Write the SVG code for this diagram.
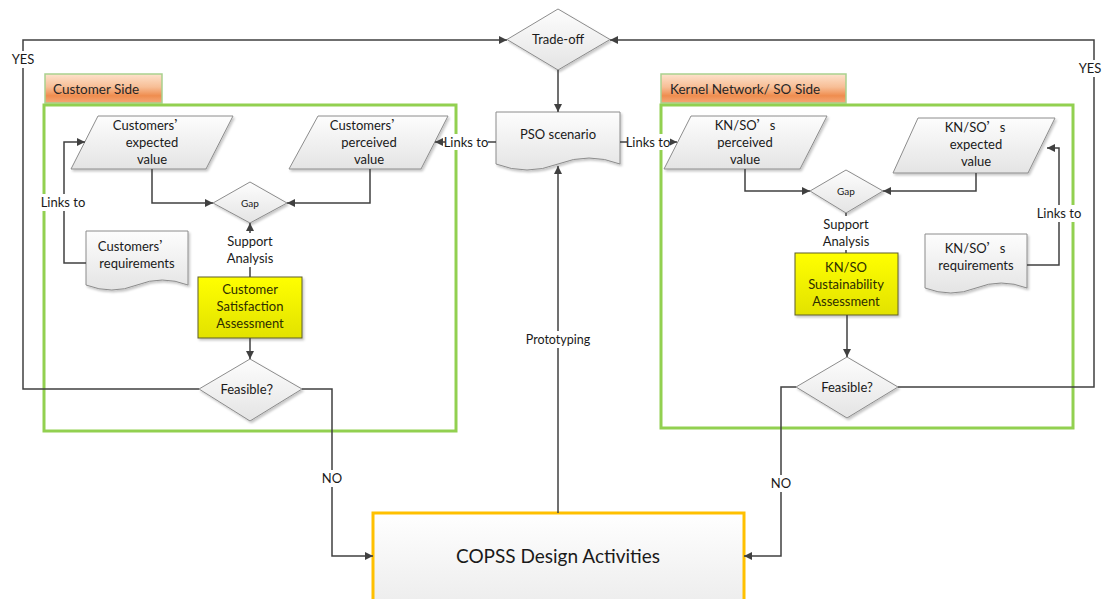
<svg xmlns="http://www.w3.org/2000/svg" width="1103" height="599" viewBox="0 0 1103 599">
<style>
.node{fill:url(#gGray);stroke:#8c8c8c;stroke-width:1;filter:url(#sh)}
.yel{fill:url(#gYel);stroke:#5f5f2a;stroke-width:1;filter:url(#sh)}
.cont{fill:none;stroke:#92d050;stroke-width:3}
.tab{fill:url(#gOr);stroke:#a9d18e;stroke-width:1.5}
.edge{fill:none;stroke:#404040;stroke-width:1.5}
.t{font-family:Lato,"Noto Sans CJK SC",sans-serif;font-size:13px;fill:#1a1a1a;text-anchor:middle}
.ty{font-family:Lato,"Noto Sans CJK SC",sans-serif;font-size:13px;fill:#2e2e00;text-anchor:middle}
.tabt{font-family:Lato,"Noto Sans CJK SC",sans-serif;font-size:13.5px;fill:#262626}
.small{font-size:10px}
.bg{fill:#ffffff}
.fw{font-family:"Noto Sans CJK SC",sans-serif;font-feature-settings:"fwid"}
</style>
<defs>
<linearGradient id="gGray" x1="0" y1="0" x2="0" y2="1"><stop offset="0" stop-color="#fdfdfd"/><stop offset="1" stop-color="#e4e4e4"/></linearGradient>
<linearGradient id="gYel" x1="0" y1="0" x2="0" y2="1"><stop offset="0" stop-color="#ffff00"/><stop offset="1" stop-color="#e2e200"/></linearGradient>
<linearGradient id="gOr" x1="0" y1="0" x2="0" y2="1"><stop offset="0" stop-color="#fde2cc"/><stop offset="0.45" stop-color="#f7be96"/><stop offset="0.75" stop-color="#ef8d4f"/><stop offset="1" stop-color="#f5a877"/></linearGradient>
<linearGradient id="gBox" x1="0" y1="0" x2="0" y2="1"><stop offset="0" stop-color="#ffffff"/><stop offset="1" stop-color="#ececec"/></linearGradient>
<filter id="sh" x="-10%" y="-10%" width="130%" height="140%"><feDropShadow dx="1.5" dy="2" stdDeviation="1.2" flood-color="#000" flood-opacity="0.22"/></filter>
<marker id="ah" viewBox="0 0 10 10" refX="10" refY="5" markerWidth="9" markerHeight="8" orient="auto" markerUnits="userSpaceOnUse"><path d="M0,0 L10,5 L0,10 z" fill="#404040"/></marker>
</defs>

<g id="customer-side">
<rect class="tab" x="45" y="74" width="117" height="29"/>
<text class="tabt" x="53" y="94">Customer Side</text>
<rect class="cont" x="44" y="105" width="412" height="326"/>
</g>
<g id="kn-side">
<rect class="tab" x="661" y="74" width="185" height="29"/>
<text class="tabt" x="670" y="94">Kernel Network/ SO Side</text>
<rect class="cont" x="661" y="105" width="412" height="323"/>
</g>

<g id="trade-off">
<polygon class="node" points="558,9 610,39.5 558,70 507,39.5"/>
<text class="t" x="558" y="44">Trade-off</text>
</g>
<g id="pso-scenario">
<path class="node" d="M496,112 H620 V164 Q589,152 558,164 T496,164 Z"/>
<text class="t" x="558" y="139">PSO scenario</text>
</g>
<g id="customers-expected">
<polygon class="node" points="98,116 233,116 206,169 71,169"/>
<text class="t" x="150" y="130">Customers<tspan class="fw">’</tspan></text>
<text class="t" x="152" y="147">expected</text>
<text class="t" x="152" y="164">value</text>
</g>
<g id="customers-perceived">
<polygon class="node" points="318,116 448,116 421,169 289,169"/>
<text class="t" x="367" y="130">Customers<tspan class="fw">’</tspan></text>
<text class="t" x="369" y="147">perceived</text>
<text class="t" x="369" y="164">value</text>
</g>
<g id="gap-left">
<polygon class="node" points="250,182 287,203 250,223 213,203"/>
<text class="t small" x="250" y="207">Gap</text>
</g>
<g id="customers-requirements">
<path class="node" d="M86,231 H188 V285 Q162,275 137,285 T86,285 Z"/>
<text class="t" x="135" y="251">Customers<tspan class="fw">’</tspan></text>
<text class="t" x="137" y="268">requirements</text>
</g>
<g id="customer-satisfaction">
<rect class="yel" x="198" y="277" width="104" height="61"/>
<text class="ty" x="250" y="294">Customer</text>
<text class="ty" x="250" y="311">Satisfaction</text>
<text class="ty" x="250" y="328">Assessment</text>
</g>
<g id="feasible-left">
<polygon class="node" points="250,359 302,389 250,421 199,389"/>
<text class="t" x="250" y="394">Feasible<tspan class="fw">？</tspan></text>
</g>

<g id="kn-perceived">
<polygon class="node" points="691,116 827,116 800,169 664,169"/>
<text class="t" x="745" y="130">KN/SO<tspan class="fw">’</tspan>s</text>
<text class="t" x="745" y="147">perceived</text>
<text class="t" x="745" y="164">value</text>
</g>
<g id="kn-expected">
<polygon class="node" points="918,118 1055,118 1028,173 893,173"/>
<text class="t" x="975" y="132">KN/SO<tspan class="fw">’</tspan>s</text>
<text class="t" x="976" y="149">expected</text>
<text class="t" x="976" y="166">value</text>
</g>
<g id="gap-right">
<polygon class="node" points="846,170 883,191 846,213 810,191"/>
<text class="t small" x="846" y="195">Gap</text>
</g>
<g id="kn-requirements">
<path class="node" d="M925,234 H1027 V288 Q1001,278 976,288 T925,288 Z"/>
<text class="t" x="975" y="253">KN/SO<tspan class="fw">’</tspan>s</text>
<text class="t" x="976" y="270">requirements</text>
</g>
<g id="kn-sustainability">
<rect class="yel" x="795" y="253" width="103" height="62"/>
<text class="ty" x="846" y="272">KN/SO</text>
<text class="ty" x="846" y="289">Sustainability</text>
<text class="ty" x="846" y="306">Assessment</text>
</g>
<g id="feasible-right">
<polygon class="node" points="847,357 898,387 847,418 796,387"/>
<text class="t" x="847" y="392">Feasible?</text>
</g>

<g id="copss">
<rect x="373" y="513" width="371" height="95" fill="url(#gBox)" stroke="#ffc000" stroke-width="3"/>
<text class="t" x="558" y="563" style="font-size:19px">COPSS Design Activities</text>
</g>

<g id="connectors">
<path class="edge" d="M558,70 V112" marker-end="url(#ah)"/>
<path class="edge" d="M199,389 H23 V40 H507" marker-end="url(#ah)"/>
<path class="edge" d="M898,387 H1094 V40 H610" marker-end="url(#ah)"/>
<path class="edge" d="M496,142 H435" marker-end="url(#ah)"/>
<path class="edge" d="M620,142 H677" marker-end="url(#ah)"/>
<path class="edge" d="M152,169 V203 H213" marker-end="url(#ah)"/>
<path class="edge" d="M370,169 V203 H287" marker-end="url(#ah)"/>
<path class="edge" d="M86,263 H64 V142 H85" marker-end="url(#ah)"/>
<path class="edge" d="M250,277 V223" marker-end="url(#ah)"/>
<path class="edge" d="M250,338 V359" marker-end="url(#ah)"/>
<path class="edge" d="M302,389 H332 V556 H373" marker-end="url(#ah)"/>
<path class="edge" d="M558,513 V166" marker-end="url(#ah)"/>
<path class="edge" d="M745,169 V191 H810" marker-end="url(#ah)"/>
<path class="edge" d="M976,173 V191 H883" marker-end="url(#ah)"/>
<path class="edge" d="M846,213 V253"/>
<path class="edge" d="M847,315 V357" marker-end="url(#ah)"/>
<path class="edge" d="M796,387 H781 V556 H744" marker-end="url(#ah)"/>
<path class="edge" d="M1027,265 H1059 V148 H1047" marker-end="url(#ah)"/>

<rect class="bg" x="10" y="51" width="26" height="17"/>
<text class="t" x="23" y="64">YES</text>
<rect class="bg" x="1078" y="60" width="25" height="17"/>
<text class="t" x="1090" y="73">YES</text>
<rect class="bg" x="445" y="134" width="43" height="16"/>
<text class="t" x="466" y="147">Links to</text>
<rect class="bg" x="627" y="134" width="43" height="16"/>
<text class="t" x="648" y="147">Links to</text>
<rect class="bg" x="40" y="194" width="46" height="17"/>
<text class="t" x="63" y="207">Links to</text>
<rect class="bg" x="1036" y="205" width="46" height="17"/>
<text class="t" x="1059" y="218">Links to</text>
<rect class="bg" x="222" y="233" width="56" height="34"/>
<text class="t" x="250" y="246">Support</text>
<text class="t" x="250" y="263">Analysis</text>
<rect class="bg" x="818" y="216" width="56" height="34"/>
<text class="t" x="846" y="229">Support</text>
<text class="t" x="846" y="246">Analysis</text>
<rect class="bg" x="320" y="470" width="24" height="17"/>
<text class="t" x="332" y="483">NO</text>
<rect class="bg" x="769" y="475" width="24" height="17"/>
<text class="t" x="781" y="488">NO</text>
<rect class="bg" x="522" y="331" width="72" height="17"/>
<text class="t" x="558" y="344" style="font-size:12.5px">Prototyping</text>
</g>
</svg>
